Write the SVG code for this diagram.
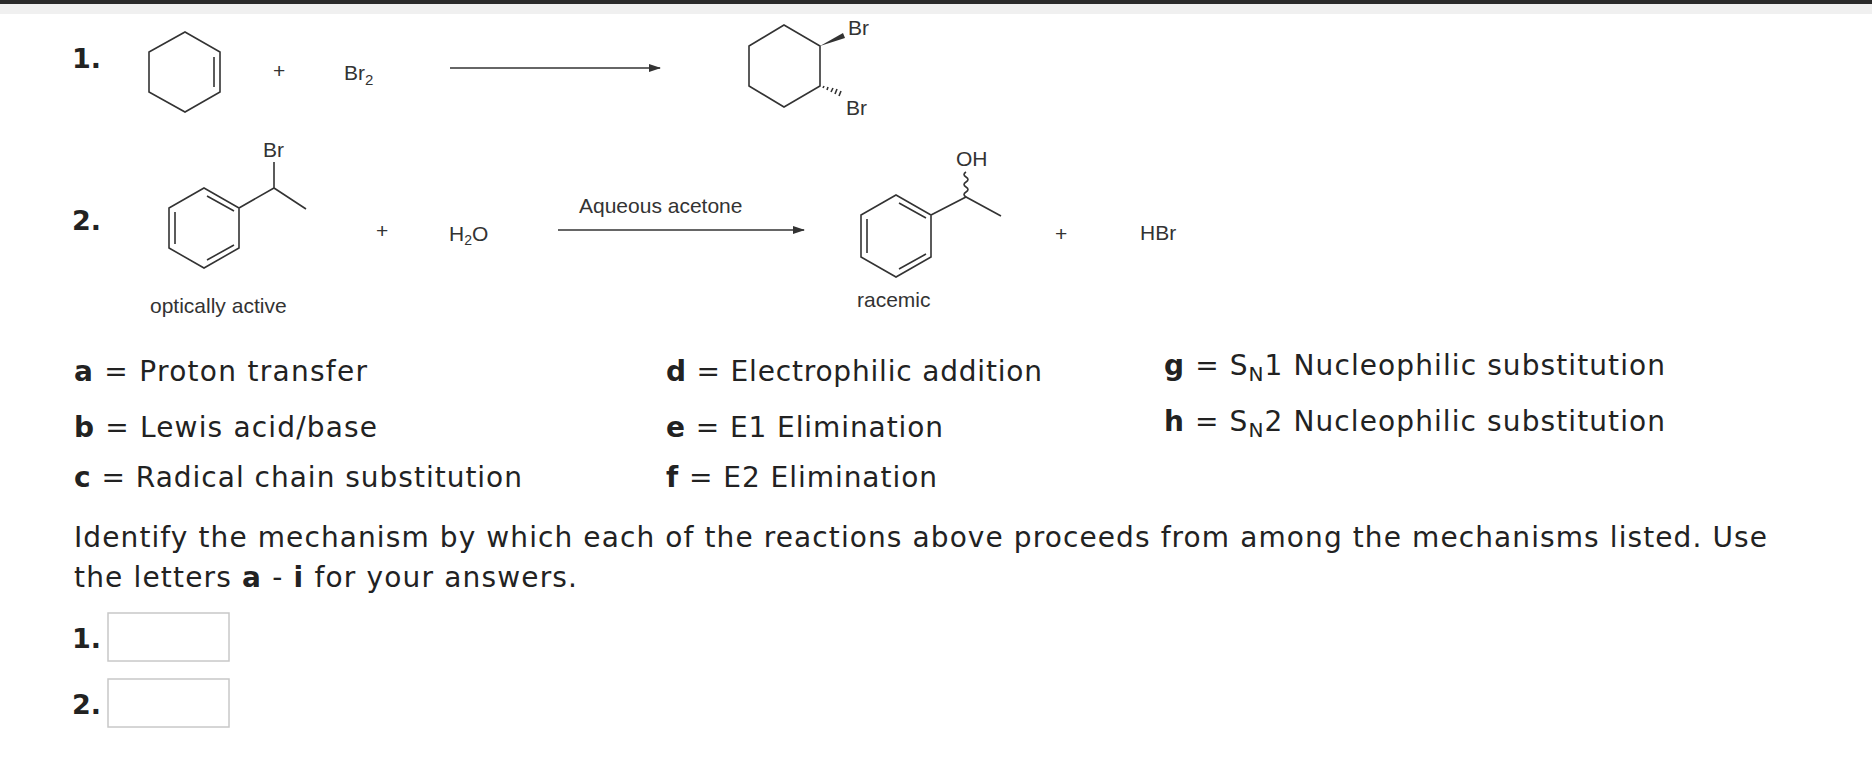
<svg xmlns="http://www.w3.org/2000/svg" width="1872" height="760" viewBox="0 0 1872 760">
<defs>
<style>
.b{stroke:#333;stroke-width:1.6;fill:none}
.c{font-family:"Liberation Sans",Arial,sans-serif;font-size:21px;fill:#333}
.t{font-family:"DejaVu Sans",Verdana,sans-serif;font-size:28px;fill:#222}
.n{font-family:"DejaVu Sans",Verdana,sans-serif;font-size:27px;font-weight:bold;fill:#222}
.bx{fill:#fff;stroke:#c8c8c8;stroke-width:1.5}
</style>
<marker id="ah" markerWidth="12" markerHeight="8" refX="11" refY="4" orient="auto" markerUnits="userSpaceOnUse"><path d="M0,0 L12,4 L0,8 Z" fill="#333"/></marker>
</defs>
<rect width="1872" height="760" fill="#fff"/>
<rect width="1872" height="14" fill="#f0f0f0"/>
<rect width="1872" height="4" fill="#2a2a2a"/>

<g id="reaction1">
<text class="n" x="72" y="68">1.</text>
<g id="cyclohexene"><path class="b" d="M185,32 L220,52 L220,92 L185,112 L149,92 L149,52 Z M214,57 L214,87"/></g>
<text class="c" x="273" y="78" font-size="14">+</text>
<text class="c" x="344" y="80">Br<tspan font-size="15" dy="5">2</tspan></text>
<g id="dibromide"><path class="b" d="M784,25 L820,46 L820,86 L784,107 L749,86 L749,46 Z"/>
<path d="M820,46 L843,33 L845,38 Z" fill="#333"/>
<path class="b" stroke-width="1.2" d="M823,88 L824,86 M827,90 L828,87 M831,92 L833,88 M835,94 L837,89 M839,96 L841,91"/>
<text class="c" x="848" y="35" font-size="18">Br</text>
<text class="c" x="846" y="115" font-size="18">Br</text></g>
</g>

<g id="reaction2">
<text class="n" x="72" y="230">2.</text>
<g id="bromide"><path class="b" d="M204,188 L239,208 L239,248 L204,268 L169,248 L169,208 Z M175,212 L175,244 M207,196 L234,211 M207,260 L234,245 M239,208 L274,188 L274,162 M274,188 L306,209"/>
<text class="c" x="263" y="157" font-size="18">Br</text>
<text class="c" x="150" y="313" font-size="19">optically active</text></g>
<text class="c" x="376" y="238" font-size="14">+</text>
<text class="c" x="449" y="241" font-size="20">H<tspan font-size="14" dy="4">2</tspan><tspan dy="-4">O</tspan></text>
<text class="c" x="579" y="213" font-size="20">Aqueous acetone</text>
<g id="alcohol"><path class="b" d="M896,195 L931,215 L931,257 L896,277 L861,257 L861,215 Z M867,219 L867,253 M899,203 L926,218 M899,269 L926,254 M931,215 L966,197 L1001,216"/>
<path class="b" stroke-width="1.3" d="M966,197 q-4,-2.5 0,-5 q4,-2.5 0,-5 q-4,-2.5 0,-5 q4,-2.5 0,-5 q-4,-2.5 0,-5"/>
<text class="c" x="956" y="166" font-size="18">OH</text>
<text class="c" x="857" y="307" font-size="19">racemic</text></g>
<text class="c" x="1055" y="241" font-size="14">+</text>
<text class="c" x="1140" y="240" font-size="19">HBr</text>
</g>

<g id="connectors">
<line class="b" x1="450" y1="68" x2="660" y2="68" marker-end="url(#ah)"/>
<line class="b" x1="558" y1="230" x2="804" y2="230" marker-end="url(#ah)"/>
</g>

<g id="legend">
<text class="t" x="74" y="381" textLength="293"><tspan font-weight="bold">a</tspan> = Proton transfer</text>
<text class="t" x="74" y="437" textLength="303"><tspan font-weight="bold">b</tspan> = Lewis acid/base</text>
<text class="t" x="74" y="487" textLength="448"><tspan font-weight="bold">c</tspan> = Radical chain substitution</text>
<text class="t" x="666" y="381" textLength="376"><tspan font-weight="bold">d</tspan> = Electrophilic addition</text>
<text class="t" x="666" y="437" textLength="277"><tspan font-weight="bold">e</tspan> = E1 Elimination</text>
<text class="t" x="666" y="487" textLength="271"><tspan font-weight="bold">f</tspan> = E2 Elimination</text>
<text class="t" x="1164" y="375" textLength="501"><tspan font-weight="bold">g</tspan> = S<tspan font-size="20" dy="6">N</tspan><tspan dy="-6">1 Nucleophilic substitution</tspan></text>
<text class="t" x="1164" y="431" textLength="501"><tspan font-weight="bold">h</tspan> = S<tspan font-size="20" dy="6">N</tspan><tspan dy="-6">2 Nucleophilic substitution</tspan></text>
<text class="t" x="74" y="547" textLength="1693">Identify the mechanism by which each of the reactions above proceeds from among the mechanisms listed. Use</text>
<text class="t" x="74" y="587" textLength="503">the letters <tspan font-weight="bold">a</tspan> - <tspan font-weight="bold">i</tspan> for your answers.</text>
</g>

<g id="answers">
<text class="n" x="72" y="648" font-size="25">1.</text>
<rect class="bx" x="108" y="613" width="121" height="48"/>
<text class="n" x="72" y="714" font-size="25">2.</text>
<rect class="bx" x="108" y="679" width="121" height="48"/>
</g>
</svg>
